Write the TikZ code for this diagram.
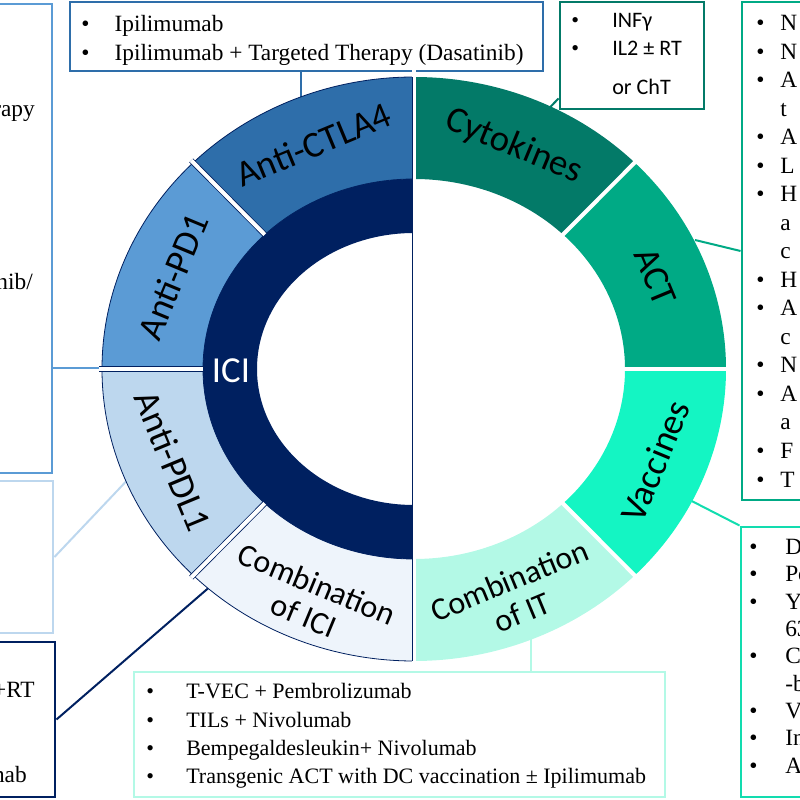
\documentclass[tikz,border=0pt]{standalone}
\usepackage{fontspec}
\setmainfont{Liberation Serif}
\newfontfamily\calibri{Carlito}
\usetikzlibrary{calc,fit}

\definecolor{icinavy}{HTML}{002060}
\definecolor{ctlablue}{HTML}{2E6EAA}
\definecolor{pdblue}{HTML}{5B9BD5}
\definecolor{pdlblue}{HTML}{BDD7EE}
\definecolor{combici}{HTML}{EEF4FB}
\definecolor{cytoteal}{HTML}{037A68}
\definecolor{actgreen}{HTML}{00AA85}
\definecolor{vacaqua}{HTML}{14F5C3}
\definecolor{combit}{HTML}{B3F9E6}

% ring radii (outer, middle, inner)
\def\rxo{312}\def\ryo{292}\def\rxm{211}\def\rym{190}\def\rxi{157}\def\ryi{136}

\newcommand{\ringpart}[3]{%
  \path[#1] ($(ctr)+({\rxo*cos(#2)},{\ryo*sin(#2)})$)
    arc[start angle=#2, end angle=#3, x radius=\rxo, y radius=\ryo]
    -- ($(ctr)+({\rxm*cos(#3)},{\rym*sin(#3)})$)
    arc[start angle=#3, end angle=#2, x radius=\rxm, y radius=\rym] -- cycle;}
\newcommand{\ringcut}[3]{%
  \draw[#1] ($(ctr)+({#3*\rxm*cos(#2)},{#3*\rym*sin(#2)})$)
    -- ($(ctr)+({1.01*\rxo*cos(#2)},{1.01*\ryo*sin(#2)})$);}
\newcommand{\blt}[1]{\makebox[#1][l]{\rmfamily\textbullet}}

\tikzset{
  listbox/.style={draw, line width=2.2pt, inner sep=0pt},
  listtext/.style={anchor=base west, inner sep=0pt, font=\fontsize{17.5}{21.4}\selectfont},
  conn/.style={line width=1.5pt},
  seclabel/.style={inner sep=0pt, font=\calibri\fontsize{27.5}{30}\selectfont},
  combolabel/.style={inner sep=0pt, align=center, font=\calibri\fontsize{24}{25.5}\selectfont},
  leftcut/.style={draw=icinavy, line width=0.6pt, double=white, double distance=3pt},
  rightcut/.style={white, line width=3pt}
}

\begin{document}
\begin{tikzpicture}[x=0.75pt,y=0.75pt]
  \useasboundingbox (0,0) rectangle (800,800);
  \clip (0,0) rectangle (800,800);
  \coordinate (ctr) at (414,431);

  % boxes
  \node[listbox, draw=ctlablue, fit={(70,729) (543,798)}] (boxCTLA) {};
  \node[listbox, draw=cytoteal, fit={(560,691) (704,798)}] (boxCyto) {};
  \node[listbox, draw=actgreen, fit={(742,300) (900,798)}] (boxACT) {};
  \node[listbox, draw=vacaqua!90!black, fit={(741,3) (900,273)}] (boxVacc) {};
  \node[listbox, draw=combit, fit={(134,3) (665,128)}] (boxCombIT) {};
  \node[listbox, draw=icinavy, fit={(-100,3) (55,158)}] (boxCombICI) {};
  \node[listbox, draw=pdlblue, fit={(-100,167) (53,319)}] (boxPDL) {};
  \node[listbox, draw=pdblue, fit={(-100,327) (52,796)}] (boxPD) {};

  % box texts
  \node[listtext] (txtCTLA) at (81,768) {\begin{tabular}[t]{@{}l@{}}
    \blt{25pt}Ipilimumab\\
    \blt{25pt}Ipilimumab + Targeted Therapy (Dasatinib)
  \end{tabular}};
  \node[listtext, font=\calibri\fontsize{16.6}{21}\selectfont] (txtCyto) at (571,772) {\begin{tabular}[t]{@{}l@{}}
    \blt{30.75pt}INFγ\\
    \blt{30.75pt}IL2 ± RT\\[8pt]
    \hspace{30.75pt}or ChT
  \end{tabular}};
  \node[listtext] (txtACT) at (756,769.5) {\begin{tabular}[t]{@{}l@{}}
    \blt{18pt}N\\ \blt{18pt}N\\ \blt{18pt}A\\ \hspace{18pt}t\\
    \blt{18pt}A\\ \blt{18pt}L\\ \blt{18pt}H\\ \hspace{18pt}a\\ \hspace{18pt}c\\
    \blt{18pt}H\\ \blt{18pt}A\\ \hspace{18pt}c\\ \blt{18pt}N\\ \blt{18pt}A\\
    \hspace{18pt}a\\ \blt{18pt}F\\ \blt{18pt}T
  \end{tabular}};
  \node[listtext, font=\fontsize{17.5}{20.5}\selectfont] (txtVacc) at (749,245.5) {\begin{tabular}[t]{@{}l@{}}
    \blt{27pt}D\\ \blt{27pt}Po\\ \blt{27pt}Yo\\ \hspace{27pt}63\\
    \blt{27pt}C\\ \hspace{27pt}-b\\ \blt{27pt}V\\ \blt{27pt}In\\ \blt{27pt}A
  \end{tabular}};
  \node[listtext, font=\fontsize{16.5}{21.2}\selectfont] (txtCombIT) at (146,101) {\begin{tabular}[t]{@{}l@{}}
    \blt{30pt}T-VEC + Pembrolizumab\\
    \blt{30pt}TILs + Nivolumab\\
    \blt{30pt}Bempegaldesleukin+ Nivolumab\\
    \blt{30pt}Transgenic ACT with DC vaccination ± Ipilimumab
  \end{tabular}};
  \node[listtext, anchor=base east] (txtPDa) at (35,683) {rapy};
  \node[listtext, anchor=base east] (txtPDb) at (33,510) {nib/};
  \node[listtext, anchor=base east] (txtCombICIa) at (35,102) {+RT};
  \node[listtext, anchor=base east] (txtCombICIb) at (27,17) {nab};

  % connector ends inside the ring
  \coordinate (endCTLA) at (301,680);
  \coordinate (endCyto) at (528,670);
  \coordinate (endACT) at (695,560);
  \coordinate (endVacc) at (680,305);
  \coordinate (endCombIT) at (531,175);
  \coordinate (endCombICI) at (220,222);
  \coordinate (endPDL) at (135,328);
  \coordinate (endPD) at (103,432);

  \draw[conn, ctlablue] (boxCTLA.south -| endCTLA) -- (endCTLA);
  \draw[conn, cytoteal] (boxCyto.south west) ++(0,12) -- (endCyto);
  \draw[conn, actgreen] (boxACT.west) -- (endACT);
  \draw[conn, vacaqua!90!black] (boxVacc.north west) -- (endVacc);
  \draw[conn, combit] (boxCombIT.north -| endCombIT) -- (endCombIT);
  \draw[conn, icinavy] (boxCombICI.east) -- (endCombICI);
  \draw[conn, pdlblue] (boxPDL.east) -- (endPDL);
  \draw[conn, pdblue] (boxPD.east |- endPD) -- (endPD);

  % ring
  \ringpart{fill=ctlablue, draw=icinavy, line width=0.6pt}{90}{135}
  \ringpart{fill=pdblue, draw=icinavy, line width=0.6pt}{135}{180}
  \ringpart{fill=pdlblue, draw=icinavy, line width=0.6pt}{180}{225}
  \ringpart{fill=combici, draw=icinavy, line width=0.6pt}{225}{270}
  \ringpart{fill=cytoteal}{45}{90}
  \ringpart{fill=actgreen}{0}{45}
  \ringpart{fill=vacaqua}{-45}{0}
  \ringpart{fill=combit}{-90}{-45}
  \path[fill=icinavy] ($(ctr)+(0,\rym)$)
    arc[start angle=90, end angle=270, x radius=\rxm, y radius=\rym]
    -- ($(ctr)+(0,-\ryi)$)
    arc[start angle=270, end angle=90, x radius=\rxi, y radius=\ryi] -- cycle;

  \ringcut{leftcut}{135}{1}
  \ringcut{leftcut}{180}{1}
  \ringcut{leftcut}{225}{1}
  \ringcut{rightcut}{45}{0.98}
  \ringcut{rightcut}{0}{0.98}
  \ringcut{rightcut}{-45}{0.98}
  \fill[white] (412,130) rectangle (416,732);
  \draw[icinavy, line width=0.6pt] (412,139) -- (412,723);

  % labels
  \node[seclabel, rotate=22.5] (lblCTLA) at ($(ctr)+({263*cos(112.5)},{243*sin(112.5)})$) {Anti-CTLA4};
  \node[seclabel, rotate=67.5] (lblPD) at ($(ctr)+({261*cos(157.5)},{241*sin(157.5)})$) {Anti-PD1};
  \node[seclabel, rotate=-67.5] (lblPDL) at ($(ctr)+({261*cos(202.5)},{241*sin(202.5)})$) {Anti-PDL1};
  \node[combolabel, rotate=-22.5] (lblCombICI) at ($(ctr)+({270*cos(247.5)},{250*sin(247.5)})$) {Combination\\of ICI};
  \node[seclabel, rotate=-22.5] (lblCyto) at ($(ctr)+({261*cos(67.5)},{241*sin(67.5)})$) {Cytokines};
  \node[seclabel, rotate=-67.5] (lblACT) at ($(ctr)+({261*cos(22.5)},{241*sin(22.5)})$) {ACT};
  \node[seclabel, rotate=67.5] (lblVacc) at ($(ctr)+({261*cos(-22.5)},{241*sin(-22.5)})$) {Vaccines};
  \node[combolabel, rotate=22.5] (lblCombIT) at ($(ctr)+({266*cos(-67.5)},{246*sin(-67.5)})$) {Combination\\of IT};
  \node[seclabel, text=white] (lblICI) at (231,429) {ICI};
\end{tikzpicture}
\end{document}
